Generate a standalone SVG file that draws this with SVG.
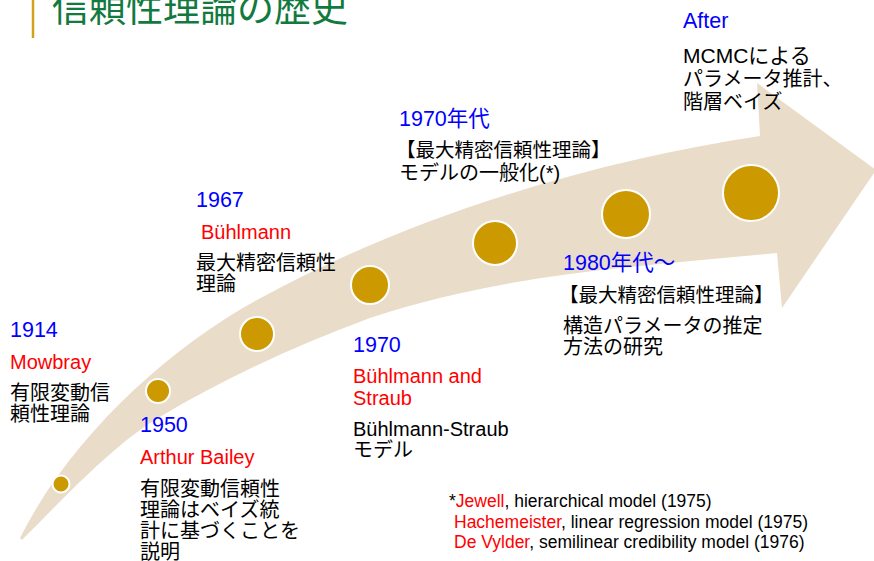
<svg xmlns="http://www.w3.org/2000/svg" width="874" height="561" viewBox="0 0 874 561">
<style>
text{font-family:"Liberation Sans","Noto Sans CJK JP",sans-serif;font-size:20px;fill:#000}
.yr{fill:#0000FF;font-size:21.5px}
.nm{fill:#FF0000}
.br{font-size:19.5px}
.fn{font-size:17.5px}
.dot{fill:#CC9900;stroke:#FFFFFF;stroke-width:2}
</style>
<rect width="874" height="561" fill="#FFFFFF"/>
<g id="title">
<line x1="33" y1="0" x2="33" y2="38" stroke="#D4A020" stroke-width="2.5"/>
<text x="52" y="22" style="font-size:37px;fill:#127A3E">信頼性理論の歴史</text>
</g>
<g id="connectors">
<path id="band" fill="#E9DCC9" d="M20,538 C70,438 167,349.5 257,300 C407,217.5 590,161.5 760,136 L757,83 L876,170 L782,308 L777,253 C637,267 510,272 370,318 C300,344 228,376 158,418 C113,445 62,500 22,540 Z"/>
</g>
<g id="dots">
<circle class="dot" cx="61" cy="484" r="8.5"/>
<circle class="dot" cx="158" cy="391" r="12"/>
<circle class="dot" cx="257" cy="334" r="17"/>
<circle class="dot" cx="370" cy="285" r="19"/>
<circle class="dot" cx="495" cy="243" r="22"/>
<circle class="dot" cx="626" cy="214" r="24"/>
<circle class="dot" cx="751" cy="193" r="28"/>
</g>
<g id="n1914">
<text class="yr" x="10" y="337">1914</text>
<text class="nm" x="10" y="369">Mowbray</text>
<text x="10" y="400">有限変動信</text>
<text x="10" y="421">頼性理論</text>
</g>
<g id="n1950">
<text class="yr" x="140" y="432">1950</text>
<text class="nm" x="140" y="464">Arthur Bailey</text>
<text x="140" y="496">有限変動信頼性</text>
<text x="140" y="517">理論はベイズ統</text>
<text x="140" y="538">計に基づくことを</text>
<text x="140" y="559">説明</text>
</g>
<g id="n1967">
<text class="yr" x="196" y="207">1967</text>
<text class="nm" x="201" y="239">Bühlmann</text>
<text x="196" y="270">最大精密信頼性</text>
<text x="196" y="291">理論</text>
</g>
<g id="n1970">
<text class="yr" x="353" y="352">1970</text>
<text class="nm" x="353" y="383">Bühlmann and</text>
<text class="nm" x="353" y="405">Straub</text>
<text x="353" y="436">Bühlmann-Straub</text>
<text x="353" y="457">モデル</text>
</g>
<g id="n1970s">
<text class="yr" x="399" y="126">1970年代</text>
<text class="br" x="396" y="157">【最大精密信頼性理論】</text>
<text x="399" y="180">モデルの一般化(*)</text>
</g>
<g id="n1980s">
<text class="yr" x="563" y="270">1980年代～</text>
<text class="br" x="559" y="302">【最大精密信頼性理論】</text>
<text x="563" y="333">構造パラメータの推定</text>
<text x="563" y="354">方法の研究</text>
</g>
<g id="nAfter">
<text class="yr" x="683" y="28">After</text>
<text x="683" y="63" style="font-size:21px">MCMCによる</text>
<text x="683" y="86">パラメータ推計、</text>
<text x="683" y="109">階層ベイズ</text>
</g>
<g id="footnote">
<text class="fn" x="449" y="507">*<tspan class="nm">Jewell</tspan>, hierarchical model (1975)</text>
<text class="fn" x="454" y="528"><tspan class="nm">Hachemeister</tspan>, linear regression model (1975)</text>
<text class="fn" x="454" y="548"><tspan class="nm">De Vylder</tspan>, semilinear credibility model (1976)</text>
</g>
</svg>
